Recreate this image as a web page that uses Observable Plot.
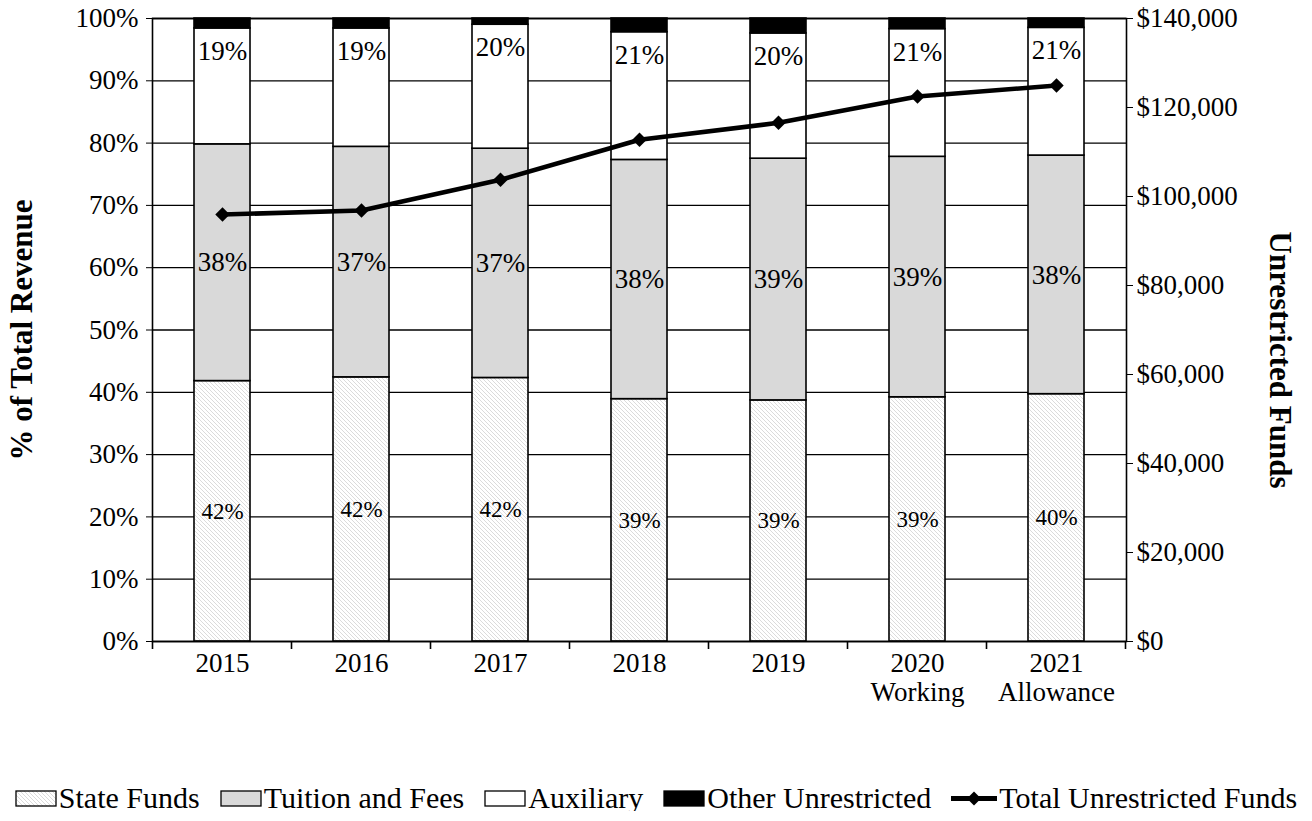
<!DOCTYPE html>
<html><head><meta charset="utf-8">
<script src="https://cdn.jsdelivr.net/npm/d3@7"></script>
<script src="https://cdn.jsdelivr.net/npm/@observablehq/plot@0.6"></script>
<style>
body{margin:0;background:#fff;font-family:"Times New Roman","Liberation Serif",Tinos,"Nimbus Roman",serif;}
#legend{display:flex;justify-content:center;align-items:center;margin-top:25px;height:26px;font-size:30px;white-space:nowrap;color:#000;}
.item{display:flex;align-items:center;margin:0 10px;}
.item svg{margin-right:2px;}
</style></head><body>
<div id="chart"></div><div id="legend"></div>
<script>
const years = ["2015","2016","2017","2018","2019","2020","2021"];
const yearLabels = ["2015","2016","2017","2018","2019","2020\nWorking","2021\nAllowance"];
const seriesNames = ["State Funds","Tuition and Fees","Auxiliary","Other Unrestricted"];
const lineName = "Total Unrestricted Funds";
const stateFunds = [41.8,42.4,42.3,38.9,38.7,39.2,39.7];
const tuitionFees = [38.0,37.0,36.8,38.4,38.8,38.6,38.3];
const auxiliary = [18.6,19.0,19.9,20.5,20.1,20.5,20.5];
const otherUnrestricted = [1.6,1.6,1.0,2.2,2.4,1.7,1.5];
const totalFunds = [95960,96850,103750,112740,116560,122470,124940];
const pctTicks = [0,10,20,30,40,50,60,70,80,90,100];
const fundTicks = [0,20000,40000,60000,80000,100000,120000,140000];
const fundMax = 140000;

const seriesFills = ["url(#hatch)","#d9d9d9","#ffffff","#000000"];
const seriesValues = [stateFunds, tuitionFees, auxiliary, otherUnrestricted];
const bars = [];
years.forEach((yr,i)=>{
  let base = 0;
  seriesValues.forEach((vals,s)=>{
    bars.push({year:yr, series:seriesNames[s], y1:base, y2:base+vals[i], value:vals[i]});
    base += vals[i];
  });
});
const lineData = years.map((yr,i)=>({year:yr, pct: totalFunds[i]/fundMax*100}));
const pctLabel = d => Math.round(d.value) + "%";
const FONT = "'Times New Roman', 'Liberation Serif', Tinos, 'Nimbus Roman', serif";
const PAD_INNER = 0.6;

const svg = Plot.plot({
  width: 1312, height: 760,
  marginLeft: 152, marginRight: 186, marginTop: 18, marginBottom: 119,
  style: {fontFamily: FONT, fontSize: "27px", color: "#000", background: "#fff"},
  x: {type: "band", domain: years, paddingInner: PAD_INNER, paddingOuter: 0.3, axis: null},
  y: {domain: [0,100], axis: null},
  color: {domain: seriesNames, range: seriesFills},
  marks: [
    Plot.ruleY(pctTicks, {stroke: "#000", strokeWidth: 1.3}),
    Plot.barY(bars, {x: "year", y1: "y1", y2: "y2", fill: "series", stroke: "#000", strokeWidth: 1.6}),
    Plot.text(bars.filter(d=>d.series===seriesNames[0]), {x: "year", y: d=>(d.y1+d.y2)/2, text: pctLabel, fontSize: 23, fill: "#000"}),
    Plot.text(bars.filter(d=>d.series===seriesNames[1]), {x: "year", y: d=>(d.y1+d.y2)/2, text: pctLabel, fontSize: 27, fill: "#000"}),
    Plot.text(bars.filter(d=>d.series===seriesNames[2]), {x: "year", y: "y2", dy: 23, text: pctLabel, fontSize: 27, fill: "#000"}),
    Plot.frame({stroke: "#000", strokeWidth: 1.6}),
    Plot.line(lineData, {x: "year", y: "pct", stroke: "#000", strokeWidth: 4.6}),
    Plot.dot(lineData, {x: "year", y: "pct", symbol: "diamond2", r: 6.5, fill: "#000", stroke: "none"}),
    Plot.axisY(pctTicks, {anchor: "left", tickSize: 6, tickPadding: 8, tickFormat: d => d + "%", fontSize: 27, label: null}),
    Plot.axisY(fundTicks.map(v=>v/fundMax*100), {anchor: "right", tickSize: 6, tickPadding: 4, tickFormat: d => "$" + d3.format(",")(Math.round(d*fundMax/100)), fontSize: 27, label: null}),
    Plot.axisX(years, {anchor: "bottom", tickSize: 0, tickPadding: 9, tickFormat: d => yearLabels[years.indexOf(d)], fontSize: 27, lineHeight: 1.1, label: null}),
    Plot.text(["% of Total Revenue"], {text: d=>d, frameAnchor: "left", textAnchor: "middle", dx: -130, rotate: -90, fontWeight: "bold", fontSize: 31, fill: "#000"}),
    Plot.text(["Unrestricted Funds"], {text: d=>d, frameAnchor: "right", textAnchor: "middle", dx: 153, dy: 30, rotate: 90, fontWeight: "bold", fontSize: 31, fill: "#000"})
  ]
});

// hatch pattern
const defs = d3.select(svg).insert("defs", ":first-child");
const pat = defs.append("pattern").attr("id","hatch").attr("patternUnits","userSpaceOnUse").attr("width",4).attr("height",4);
pat.append("rect").attr("width",4).attr("height",4).attr("fill","#fff");
pat.append("path").attr("d","M-1,-1L5,5M-1,3L1,5M3,-1L5,1").attr("stroke","#d2d2d2").attr("stroke-width",0.8);

// x-axis boundary ticks from the band scale
const xs = svg.scale("x");
const step = xs.step, bw = xs.bandwidth;
const yBottom = 760 - 119;
const bounds = years.map(y => xs.apply(y) - (step - bw)/2);
bounds.push(xs.apply(years[years.length-1]) + bw + (step - bw)/2);
const tg = d3.select(svg).append("g");
bounds.forEach(b => tg.append("line").attr("x1",b).attr("x2",b).attr("y1",yBottom).attr("y2",yBottom+8).attr("stroke","#000").attr("stroke-width",1.6));

document.getElementById("chart").appendChild(svg);

// legend
const legend = d3.select("#legend");
seriesNames.forEach((name,i)=>{
  const it = legend.append("div").attr("class","item");
  const s = it.append("svg").attr("width",42).attr("height",17);
  s.append("rect").attr("x",1).attr("y",1).attr("width",40).attr("height",15).attr("fill",seriesFills[i]).attr("stroke","#000").attr("stroke-width",1.3);
  it.append("span").text(name);
});
const it = legend.append("div").attr("class","item");
const s = it.append("svg").attr("width",46).attr("height",17);
s.append("line").attr("x1",0).attr("x2",46).attr("y1",8.5).attr("y2",8.5).attr("stroke","#000").attr("stroke-width",5);
s.append("path").attr("d","M23,1.5L30,8.5L23,15.5L16,8.5Z").attr("fill","#000");
it.append("span").text(lineName);
</script>
</body></html>
